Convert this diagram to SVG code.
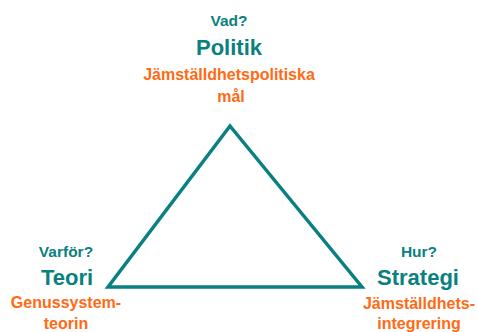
<svg xmlns="http://www.w3.org/2000/svg" width="477" height="332" viewBox="0 0 477 332">
<style>
text{font-family:"Liberation Sans",Arial,sans-serif;font-weight:bold;text-anchor:middle}
.q{fill:#0a8080;font-size:15.5px}
.t{fill:#0a8080;font-size:22px}
.o{fill:#ff6a13;font-size:16px}
.edge{fill:none;stroke:#0a8080;stroke-width:3.5;stroke-linejoin:miter}
</style>
<rect width="477" height="332" fill="#ffffff"/>
<g id="connectors">
<polygon class="edge" points="230,126 108,287 362,287"/>
</g>
<g id="politik">
<text class="q" x="229" y="26">Vad?</text>
<text class="t" x="229" y="55">Politik</text>
<text class="o" x="229" y="80">Jämställdhetspolitiska</text>
<text class="o" x="231" y="102">mål</text>
</g>
<g id="teori">
<text class="q" x="66" y="257">Varför?</text>
<text class="t" x="67" y="285">Teori</text>
<text class="o" x="66" y="308">Genussystem-</text>
<text class="o" x="66" y="329">teorin</text>
</g>
<g id="strategi">
<text class="q" x="419" y="257">Hur?</text>
<text class="t" x="418" y="285">Strategi</text>
<text class="o" x="419" y="309">Jämställdhets-</text>
<text class="o" x="419" y="329">integrering</text>
</g>
</svg>
